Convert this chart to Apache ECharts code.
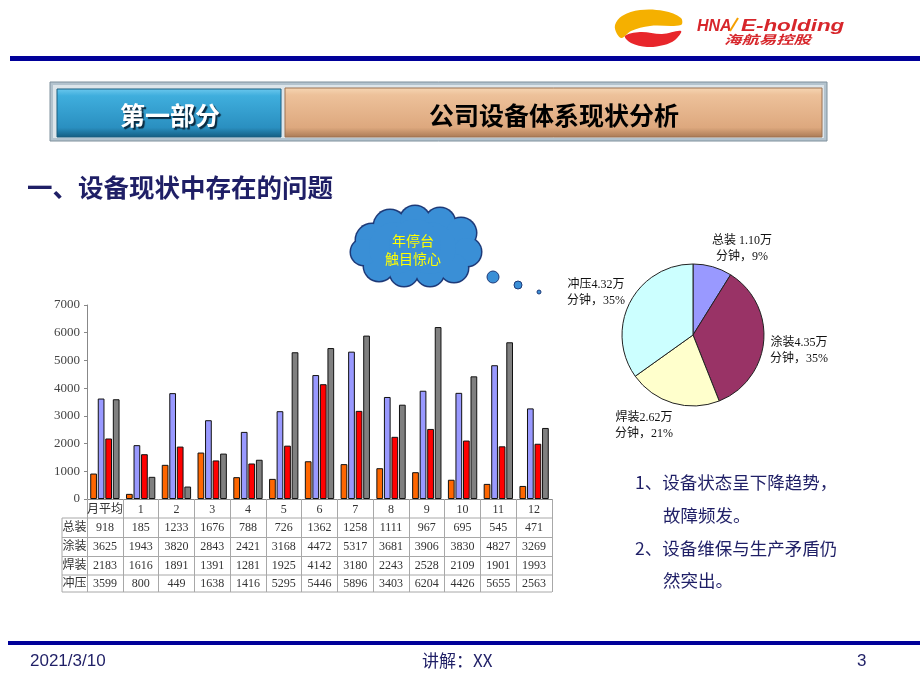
<!DOCTYPE html>
<html>
<head>
<meta charset="utf-8">
<script src="https://cdn.jsdelivr.net/npm/echarts@6/dist/echarts.min.js"></script>
<style>
html,body{margin:0;padding:0;background:#fff;}
#main{width:920px;height:690px;}
</style>
</head>
<body>
<div id="main"></div>
<script>
// ---- data ----
const categories = ['月平均','1','2','3','4','5','6','7','8','9','10','11','12'];
const zongzhuang = [918,185,1233,1676,788,726,1362,1258,1111,967,695,545,471];
const tuzhuang   = [3625,1943,3820,2843,2421,3168,4472,5317,3681,3906,3830,4827,3269];
const hanzhuang  = [2183,1616,1891,1391,1281,1925,4142,3180,2243,2528,2109,1901,1993];
const chongya    = [3599,800,449,1638,1416,5295,5446,5896,3403,6204,4426,5655,2563];
const seriesNames = ['总装','涂装','焊装','冲压'];
const yMax = 7000, yStep = 1000;
const pieNames = ['总装','涂装','焊装','冲压'];
const pieValues = [1.10, 4.35, 2.62, 4.32]; // 万分钟
const titleText = '公司设备体系现状分析';
const partText = '第一部分';
const headingText = '一、设备现状中存在的问题';
const cloudText = '年停台\n触目惊心';
const bullets = ['1、设备状态呈下降趋势，','故障频发。','2、设备维保与生产矛盾仍','然突出。'];
const footerDate = '2021/3/10', footerMid = '讲解：XX', footerPage = '3';

const SERIF = '"Liberation Serif","Noto Sans CJK SC",serif';
const SANS = '"Noto Sans CJK SC","Liberation Sans",sans-serif';
const NAVY = '#1F1F66';

const chart = echarts.init(document.getElementById('main'), null, {renderer:'canvas'});
const barColors = ['#FF6600','#9999FF','#FF0000','#808080'];
const barData = [zongzhuang, tuzhuang, hanzhuang, chongya];
const pieColors = ['#9999FF','#993366','#FFFFCC','#CCFFFF'];
// label anchor positions for pie labels (label placement only)
const pieLabelPos = [[742,249],[799,351],[644,426],[596,293]];

chart.setOption({
  animation:false,
  backgroundColor:'#fff',
  grid:{left:87, right:368, top:305, bottom:191, containLabel:false},
  xAxis:{
    type:'category', data:categories,
    axisLine:{lineStyle:{color:'#888'}},
    axisTick:{show:true, interval:0, length:93, lineStyle:{color:'#A8A8A8'}},
    axisLabel:{interval:0, color:'#333', fontFamily:SERIF, fontSize:12, margin:5}
  },
  yAxis:{
    type:'value', min:0, max:yMax, interval:yStep,
    splitLine:{show:false},
    axisLine:{show:true, lineStyle:{color:'#888'}},
    axisTick:{show:true, length:3, lineStyle:{color:'#888'}},
    axisLabel:{color:'#444', fontFamily:SERIF, fontSize:13, margin:7, formatter:(v)=>String(v)}
  },
  series: barData.map((d,i)=>({
    type:'bar', name:seriesNames[i], data:d,
    barGap:'12%', barCategoryGap:'18%',
    itemStyle:{color:barColors[i], borderColor:'#111', borderWidth:1}
  })).concat([{
    type:'pie', center:[693,335], radius:71, startAngle:90, clockwise:true,
    percentPrecision:0,
    data: pieNames.map((n,i)=>({name:n, value:pieValues[i], itemStyle:{color:pieColors[i]}})),
    itemStyle:{borderColor:'#222', borderWidth:1},
    label:{show:true, position:'outside', fontFamily:SERIF, fontSize:12, color:'#111', lineHeight:16, align:'center',
      formatter:(p)=> p.name + (p.dataIndex===0?' ':'') + p.value.toFixed(2) + '万\n分钟，' + Math.round(p.percent) + '%'},
    labelLine:{show:false, length:6, length2:4},
    labelLayout:(params)=>({x:pieLabelPos[params.dataIndex][0], y:pieLabelPos[params.dataIndex][1], align:'center', verticalAlign:'middle'})
  }])
});

// ---- table & decoration graphics ----
const g = [];
const colX = categories.map((c,i)=>chart.convertToPixel({xAxisIndex:0}, i));
const xLeft = chart.convertToPixel({xAxisIndex:0}, 0) - (colX[1]-colX[0])/2;
const xRight = colX[colX.length-1] + (colX[1]-colX[0])/2;
const y0 = chart.convertToPixel({yAxisIndex:0}, 0);
const tabLeft = 62;
const rowLines = [y0+19, y0+38.5, y0+57.5, y0+76, y0+93];
rowLines.forEach(y=>g.push({type:'line', shape:{x1:tabLeft,y1:y,x2:xRight,y2:y}, style:{stroke:'#A8A8A8', lineWidth:1}}));
g.push({type:'line', shape:{x1:tabLeft,y1:rowLines[0],x2:tabLeft,y2:rowLines[4]}, style:{stroke:'#A8A8A8', lineWidth:1}});
seriesNames.forEach((n,r)=>{
  const yc = (rowLines[r]+rowLines[r+1])/2;
  g.push({type:'text', x:(tabLeft+xLeft)/2, y:yc, style:{text:n, fill:'#333', font:'12px '+SERIF, textAlign:'center', textVerticalAlign:'middle'}});
  barData[r].forEach((v,i)=>{
    g.push({type:'text', x:colX[i], y:yc, style:{text:String(v), fill:'#333', font:'12px '+SERIF, textAlign:'center', textVerticalAlign:'middle'}});
  });
});

// top logo
g.push({type:'polygon', shape:{smooth:0.35, points:[[681,18],[664,11],[640,10],[622,16],[615,25],[617,34],[622,38],[631,31],[650,26],[681,25]]}, style:{fill:'#F5B000'}});
g.push({type:'polygon', shape:{smooth:0.35, points:[[625,36],[631,43],[647,47],[664,45],[675,40],[681,31],[662,34],[640,32]]}, style:{fill:'#E8262B'}});
g.push({type:'text', x:697, y:27, style:{text:'HNA', fill:'#D7262B', font:'italic bold 16px "Liberation Sans",sans-serif', textVerticalAlign:'middle'}});
g.push({type:'line', shape:{x1:738,y1:18,x2:730,y2:31}, style:{stroke:'#F5A000', lineWidth:2}});
g.push({type:'text', x:741, y:27, scaleX:1.4, originX:0, originY:0, style:{text:'E-holding', fill:'#D7262B', font:'italic bold 16px "Liberation Sans",sans-serif', textVerticalAlign:'middle'}});
g.push({type:'text', x:724, y:39, scaleX:1.45, originX:0, originY:0, style:{text:'海航易控股', fill:'#D7262B', font:'italic bold 12px '+SANS, textVerticalAlign:'middle'}});
// top & bottom rules
g.push({type:'rect', shape:{x:10,y:56,width:910,height:5}, style:{fill:'#000099'}});
g.push({type:'rect', shape:{x:8,y:641,width:912,height:4}, style:{fill:'#000099'}});

// header bar
g.push({type:'rect', shape:{x:50,y:82,width:777,height:59}, style:{fill:'#B3C3CE', stroke:'#7F909C', lineWidth:1}});
g.push({type:'rect', shape:{x:53,y:85,width:771,height:53}, style:{fill:'#DDE5EA'}});
g.push({type:'rect', shape:{x:57,y:89,width:224,height:48}, style:{fill:new echarts.graphic.LinearGradient(0,0,0,1,[{offset:0,color:'#6CC8EE'},{offset:0.15,color:'#3FAEDD'},{offset:0.8,color:'#2A8FC0'},{offset:1,color:'#145C80'}]), stroke:'#1B5E80', lineWidth:1}});
g.push({type:'rect', shape:{x:285,y:88,width:537,height:49}, style:{fill:new echarts.graphic.LinearGradient(0,0,0,1,[{offset:0,color:'#F6D6B4'},{offset:0.15,color:'#EDC19A'},{offset:0.8,color:'#DDA87E'},{offset:1,color:'#A97A55'}]), stroke:'#9C7352', lineWidth:1}});
g.push({type:'text', x:170, y:115, style:{text:partText, fill:'#fff', font:'bold 25px '+SANS, textAlign:'center', textVerticalAlign:'middle', textShadowColor:'#0A2A40', textShadowOffsetX:2, textShadowOffsetY:2, textShadowBlur:1}});
g.push({type:'text', x:554, y:115, style:{text:titleText, fill:'#000', font:'bold 25px '+SANS, textAlign:'center', textVerticalAlign:'middle'}});
// heading
g.push({type:'text', x:27, y:187, style:{text:headingText, fill:NAVY, font:'bold 25.5px '+SANS, textVerticalAlign:'middle'}});

// cloud
const bumps = [[372,240,16],[390,226,16],[415,221,15],[440,223,15],[461,233,15],[467,252,14],[454,268,14],[430,272,14],[404,272,14],[379,266,15],[364,252,13]];
bumps.forEach(b=>g.push({type:'circle', shape:{cx:b[0],cy:b[1],r:b[2]+1.5}, style:{fill:'#1E3A78'}}));
bumps.forEach(b=>g.push({type:'circle', shape:{cx:b[0],cy:b[1],r:b[2]}, style:{fill:'#3A8FD6'}}));
[[395,248,26],[430,248,26],[415,245,26]].forEach(b=>g.push({type:'circle', shape:{cx:b[0],cy:b[1],r:b[2]}, style:{fill:'#3A8FD6'}}));
[[493,277,6],[518,285,4],[539,292,2]].forEach(b=>g.push({type:'circle', shape:{cx:b[0],cy:b[1],r:b[2]}, style:{fill:'#3A8FD6', stroke:'#1E3A78', lineWidth:1}}));
g.push({type:'text', x:413, y:250, style:{text:cloudText, fill:'#FFFF00', font:'14px '+SANS, lineHeight:18, textAlign:'center', textVerticalAlign:'middle'}});

// bullets
[[635,482],[663,515],[635,548],[663,580]].forEach((p,i)=>g.push({type:'text', x:p[0], y:p[1], style:{text:bullets[i], fill:NAVY, font:'17.5px '+SANS, textVerticalAlign:'middle'}}));
// footer
g.push({type:'text', x:30, y:661, style:{text:footerDate, fill:NAVY, font:'17px "Liberation Sans",sans-serif', textVerticalAlign:'middle'}});
g.push({type:'text', x:422, y:661, style:{text:footerMid, fill:NAVY, font:'17px '+SANS, textVerticalAlign:'middle'}});
g.push({type:'text', x:857, y:661, style:{text:footerPage, fill:NAVY, font:'17px "Liberation Sans",sans-serif', textVerticalAlign:'middle'}});

chart.setOption({graphic:{elements:g}});
</script>
</body>
</html>
